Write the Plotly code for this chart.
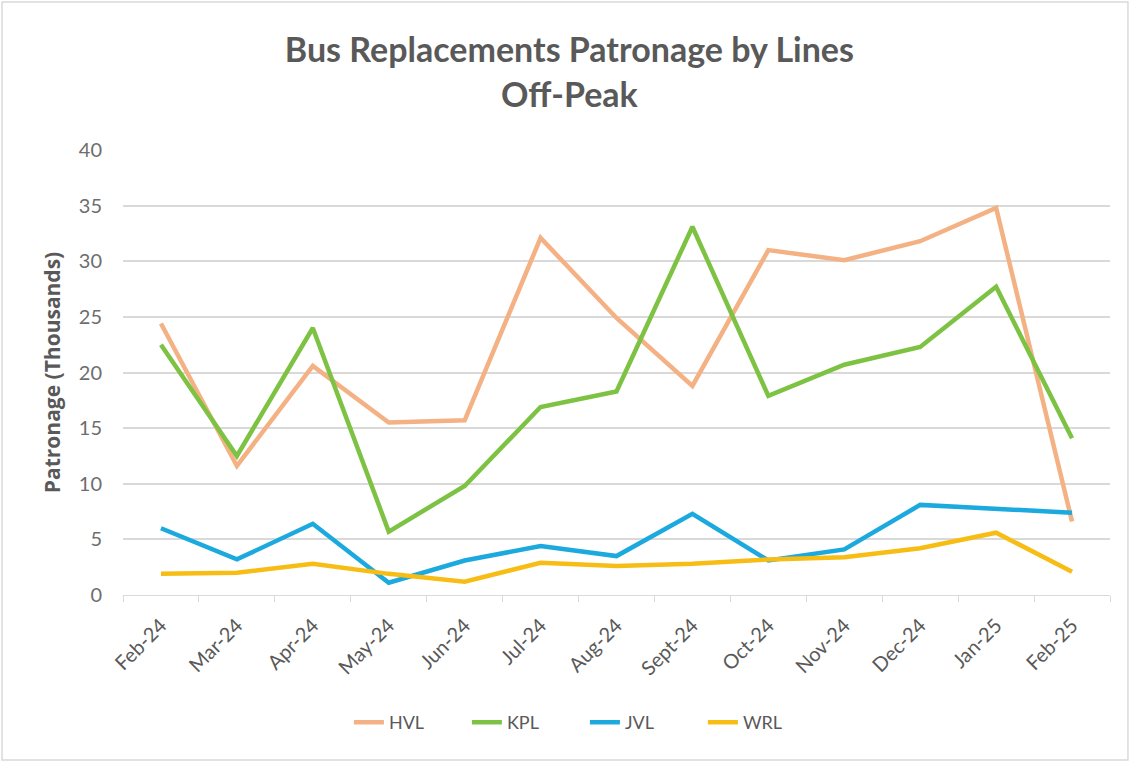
import plotly.graph_objects as go

months = ["Feb-24", "Mar-24", "Apr-24", "May-24", "Jun-24", "Jul-24", "Aug-24",
          "Sept-24", "Oct-24", "Nov-24", "Dec-24", "Jan-25", "Feb-25"]
hvl = [24.4, 11.6, 20.6, 15.5, 15.7, 32.1, 24.9, 18.8, 31.0, 30.1, 31.8, 34.8, 6.6]
kpl = [22.5, 12.5, 24.0, 5.7, 9.8, 16.9, 18.3, 33.1, 17.9, 20.7, 22.3, 27.7, 14.1]
jvl = [6.0, 3.2, 6.4, 1.1, 3.1, 4.4, 3.5, 7.3, 3.1, 4.1, 8.1, 7.7, 7.4]
wrl = [1.9, 2.0, 2.8, 1.9, 1.2, 2.9, 2.6, 2.8, 3.2, 3.4, 4.2, 5.6, 2.1]

series = [("HVL", hvl, "#F4B183"), ("KPL", kpl, "#7DC243"),
          ("JVL", jvl, "#1BA9DE"), ("WRL", wrl, "#F7BD14")]

fig = go.Figure()
for name, vals, color in series:
    fig.add_trace(go.Scatter(x=months, y=vals, name=name, mode="lines",
                             line=dict(color=color, width=4.5)))

gray = "#595959"
fnt = "Lato, Open Sans, sans-serif"
fig.update_layout(
    width=1132, height=762,
    margin=dict(l=123, r=22, t=150, b=167),
    paper_bgcolor="white", plot_bgcolor="white",
    font=dict(family=fnt, color=gray),
    title=dict(text="<b>Bus Replacements Patronage by Lines<br>Off-Peak</b>",
               x=0.503, xanchor="center", y=0.918, yanchor="top",
               font=dict(size=34, color=gray, family=fnt)),
    legend=dict(orientation="h", x=0.468, xanchor="center", y=-0.245, yanchor="top",
                font=dict(size=18, color=gray), entrywidth=73, entrywidthmode="pixels"),
    showlegend=True,
)
fig.update_xaxes(type="category", range=[-0.5, 12.5], showgrid=False, showline=True,
                 linecolor="#D9D9D9", linewidth=1, ticks="outside", tickson="boundaries",
                 ticklen=6, tickcolor="#D9D9D9", tickangle=-45, ticklabelstandoff=10,
                 tickfont=dict(size=20, color=gray))
fig.update_yaxes(range=[0, 40], dtick=5, showgrid=True, gridcolor="#D9D9D9",
                 gridwidth=1.5, zeroline=False, showline=False,
                 tickfont=dict(size=20, color="#6E6E6E"), ticklabelstandoff=20,
                 title=dict(text="<b>Patronage (Thousands)</b>", standoff=12,
                            font=dict(size=21, color=gray, family="Open Sans, sans-serif")))

fig.add_shape(type="rect", xref="paper", yref="paper",
              x0=-0.1226, x1=1.0182, y0=-0.371, y1=1.3326,
              line=dict(color="#D9D9D9", width=1.5), fillcolor="rgba(0,0,0,0)", layer="below")

fig.write_html("out.html", config={"displayModeBar": False},
               post_script="document.body.style.margin='0';document.body.style.padding='0';")
